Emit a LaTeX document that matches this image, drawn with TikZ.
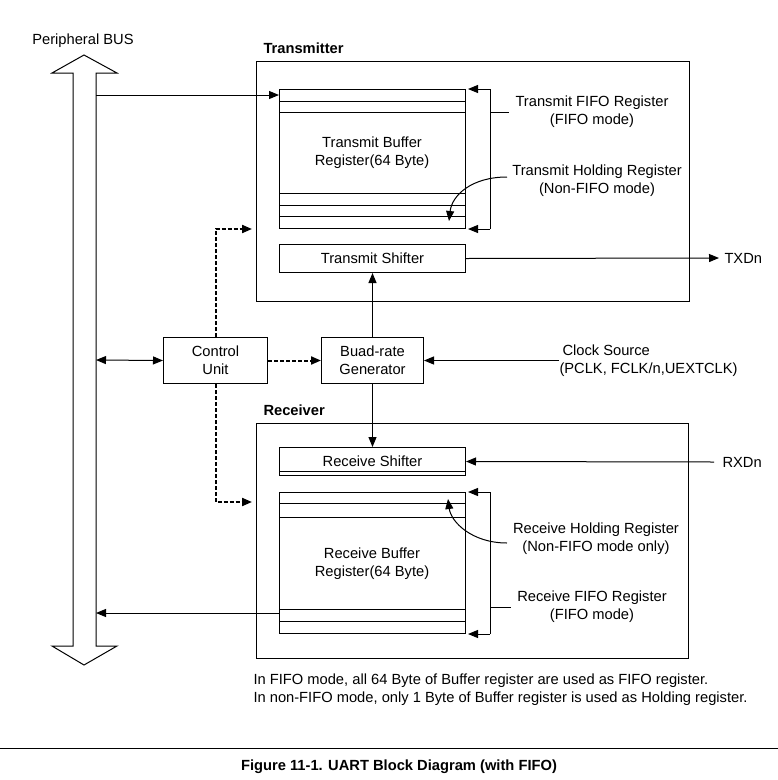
\documentclass[tikz,border=0pt]{standalone}
\usepackage{fontspec}
\setmainfont{Liberation Sans}
\usetikzlibrary{arrows.meta}
\begin{document}
\begin{tikzpicture}[x=1pt,y=-1pt, line width=1pt,
  font=\fontsize{14.7}{17.8}\selectfont,
  box/.style={draw, inner sep=0pt, anchor=north west, align=center},
  lbl/.style={align=center, inner sep=0pt},
  tip/.style={-{Triangle[length=10pt,width=8pt]}},
  dtip/.style={{Triangle[length=10pt,width=8pt]}-{Triangle[length=10pt,width=8pt]}},
  dsh/.style={line width=2pt, dash pattern=on 4pt off 2pt},
]
\useasboundingbox (0,0) rectangle (778,780);

% Peripheral bus
\draw (84,55) -- (117,73) -- (96,73) -- (96,646) -- (117,646) -- (84,665)
      -- (52,646) -- (73,646) -- (73,73) -- (52,73) -- cycle;
\node[lbl] (busname) at (83,41) {Peripheral BUS};
\coordinate (busR) at (96,360);

% Transmitter
\node[box, minimum width=433, minimum height=240] (txbox) at (256,61) {};
\node[lbl, anchor=west, font=\fontsize{14.7}{17.8}\selectfont\bfseries] (txname) at (263,48) {Transmitter};
\node[box, minimum width=186, minimum height=139] (txbuf) at (279,89) {};
\foreach \yy in {101,112,193,205,216}
  \draw (txbuf.west |- 0,\yy) -- (txbuf.east |- 0,\yy);
\node[lbl] (txbuftext) at (372,152.5) {Transmit Buffer\\Register(64 Byte)};
\node[box, minimum width=186, minimum height=28] (txsh) at (279,244) {Transmit Shifter};

% Receiver
\node[box, minimum width=432, minimum height=235] (rxbox) at (256,423) {};
\node[lbl, anchor=west, font=\fontsize{14.7}{17.8}\selectfont\bfseries] (rxname) at (263,410) {Receiver};
\node[box, minimum width=186, minimum height=28] (rxsh) at (279,447) {Receive Shifter};
\draw (rxsh.west |- 0,471) -- (rxsh.east |- 0,471);
\node[box, minimum width=186, minimum height=141] (rxbuf) at (279,492) {};
\foreach \yy in {503,517,609,621}
  \draw (rxbuf.west |- 0,\yy) -- (rxbuf.east |- 0,\yy);
\node[lbl] (rxbuftext) at (372,564) {Receive Buffer\\Register(64 Byte)};

% Control and baud
\node[box, minimum width=104, minimum height=46] (ctrl) at (163,337) {Control\\Unit};
\node[box, minimum width=102, minimum height=46] (baud) at (321,337) {Buad-rate\\Generator};

% Side labels
\node[lbl] (txfifo) at (592,112) {Transmit FIFO Register\\(FIFO mode)};
\node[lbl] (txhold) at (597,181) {Transmit Holding Register\\(Non-FIFO mode)};
\node[lbl] (rxhold) at (596,539) {Receive Holding Register\\(Non-FIFO mode only)};
\node[lbl] (rxfifo) at (592,607) {Receive FIFO Register\\(FIFO mode)};
\node[lbl, anchor=west, align=left] (clk) at (559,361) {\hspace*{3pt}Clock Source\\(PCLK, FCLK/n,UEXTCLK)};
\node[lbl, anchor=west] (txd) at (724,258) {TXDn};
\node[lbl, anchor=west] (rxd) at (722,462) {RXDn};

% Brackets
\coordinate (br) at (490,0);
\draw[tip, shorten >=2pt] (txbuf.north -| br) -- (txbuf.north east);
\draw (txbuf.north -| br) -- (txbuf.south -| br);
\draw[tip, shorten >=2pt] (txbuf.south -| br) -- (txbuf.south east);
\draw (br |- txfifo.west) -- ([xshift=-6pt]txfifo.west);
\draw[tip, shorten >=2pt] (rxbuf.north -| br) -- (rxbuf.north east);
\draw (rxbuf.north -| br) -- (rxbuf.south -| br);
\draw[tip, shorten >=2pt] (rxbuf.south -| br) -- (rxbuf.south east);
\draw (br |- rxfifo.west) -- ([xshift=-6pt]rxfifo.west);

% Holding curves
\coordinate (txh0) at (507,177);
\coordinate (txh1) at (449,221);
\draw[tip] (txh0) .. controls (472,177) and (452,195) .. (txh1);
\coordinate (rxh0) at (507,543);
\coordinate (rxh1) at (448,499);
\draw[tip] (rxh0) .. controls (472,543) and (451,522) .. (rxh1);

% Connectors
\draw[tip] (busR |- 0,95) -- (txbuf.west |- 0,95);
\draw[tip] (rxbuf.west |- 0,613) -- (busR |- 0,613);
\draw[dtip] (busR) -- (ctrl.west);
\draw[dsh, tip] (ctrl.east) -- (baud.west);
\draw[dsh, tip] (ctrl.north) |- ([xshift=-4pt]txbox.west |- 0,229);
\draw[dsh, tip] (ctrl.south) |- ([xshift=-4pt]rxbox.west |- 0,502);
\draw[tip] (baud.north) -- (txsh.south);
\draw[tip] (baud.south) -- (rxsh.north);
\draw[tip] (clk.west |- baud.east) -- (baud.east);
\draw[tip] (txsh.east) -- ([xshift=-5pt]txd.west);
\draw[tip] ([xshift=-8pt]rxd.west) -- (rxsh.east);

% Notes and caption
\node[lbl, anchor=west, align=left] (notes) at (253,690)
  {In FIFO mode, all 64 Byte of Buffer register are used as FIFO register.\\
   In non-FIFO mode, only 1 Byte of Buffer register is used as Holding register.};
\coordinate (ruleL) at (0,748);
\coordinate (ruleR) at (778,748);
\draw (ruleL) -- (ruleR);
\node[lbl, font=\fontsize{14.7}{17.8}\selectfont\bfseries] (caption) at (399,767)
  {Figure 11-1. UART Block Diagram (with FIFO)};
\end{tikzpicture}
\end{document}
